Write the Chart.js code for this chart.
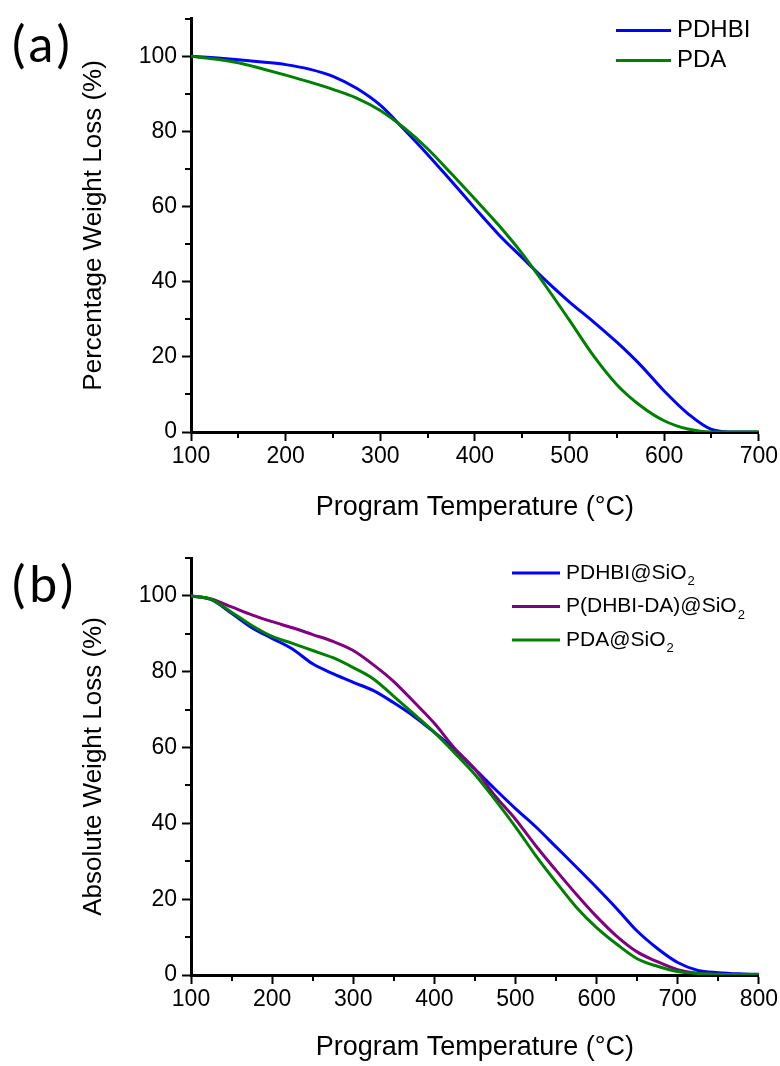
<!DOCTYPE html>
<html>
<head>
<meta charset="utf-8">
<script src="https://cdn.jsdelivr.net/npm/chart.js@4.4.1/dist/chart.umd.min.js"></script>
<style>
  html, body { margin: 0; padding: 0; background: #fff; }
  #wrap { position: relative; width: 780px; height: 1066px; }
  canvas { position: absolute; left: 0; }
</style>
</head>
<body>
<div id="wrap">
  <canvas id="chartA" width="780" height="533" style="top:0"></canvas>
  <canvas id="chartB" width="780" height="533" style="top:533px"></canvas>
</div>
<script>
// ---- panel (a) ----
var tempA = [100, 125, 150, 175, 200, 225, 250, 275, 300, 325, 350, 375, 400,
             425, 450, 475, 500, 525, 550, 575, 600, 625, 650, 675, 700];
var pdhbi = [100, 99.6, 99.1, 98.5, 97.8, 96.6, 94.7, 91.5, 87.0, 80.6, 73.9, 66.8, 59.6,
             52.6, 46.4, 40.3, 34.6, 29.4, 23.9, 17.8, 10.9, 4.9, 0.7, 0, 0];
var pda = [100, 99.3, 98.3, 96.7, 95.0, 93.2, 91.2, 88.9, 85.6, 81.0, 75.4, 68.8, 62.0,
           55.1, 47.5, 38.8, 29.7, 20.4, 12.6, 7.0, 3.0, 0.8, 0, 0, 0];
var namesA = ['PDHBI', 'PDA'];

// ---- panel (b) ----
var tempB = [100, 125, 150, 175, 200, 225, 250, 275, 300, 325, 350, 375, 400, 425, 450,
             475, 500, 525, 550, 575, 600, 625, 650, 675, 700, 725, 750, 775, 800];
var pdhbiSi = [100, 99.0, 95.4, 91.6, 88.8, 86.0, 82.1, 79.5, 77.2, 75.0, 71.8, 68.2, 64.0, 59.5, 54.3,
               49.0, 43.9, 39.1, 33.8, 28.5, 23.1, 17.5, 11.6, 7.0, 3.3, 1.2, 0.6, 0.3, 0.2];
var pDhbiDaSi = [100, 99.2, 97.1, 95.0, 93.2, 91.6, 89.8, 88.0, 85.6, 81.8, 77.4, 72.0, 66.4, 59.8, 54.3,
                 47.2, 41.1, 34.1, 27.6, 21.3, 15.4, 10.2, 6.1, 3.5, 1.4, 0.4, 0.2, 0.1, 0.1];
var pdaSi = [100, 99.1, 95.7, 92.2, 89.3, 87.5, 85.6, 83.7, 81.1, 78.1, 73.5, 68.8, 64.0, 58.6, 52.9,
             46.2, 39.1, 31.5, 24.5, 17.9, 12.5, 8.1, 4.3, 2.3, 0.9, 0.4, 0.2, 0.1, 0.1];
var namesB = ['PDHBI@SiO\u2082', 'P(DHBI-DA)@SiO\u2082', 'PDA@SiO\u2082'];

// ---- axes ----
var yTicks = [0, 20, 40, 60, 80, 100];
var yMinor = [10, 30, 50, 70, 90, 110];
var xTicksA = [100, 200, 300, 400, 500, 600, 700];
var xMinorA = [150, 250, 350, 450, 550, 650];
var xTicksB = [100, 200, 300, 400, 500, 600, 700, 800];
var xMinorB = [150, 250, 350, 450, 550, 650, 750];

var FAMILY = "'Liberation Sans', Arial, sans-serif";
var BLUE = '#0000ff', GREEN = '#008000', PURPLE = '#800080';

function minorTicks(xMinor) {
  return {
    id: 'minorTicks',
    afterDraw: function (chart) {
      var ctx = chart.ctx, xs = chart.scales.x, ys = chart.scales.y;
      ctx.save();
      ctx.strokeStyle = '#000';
      ctx.lineWidth = 2;
      ctx.beginPath();
      xMinor.forEach(function (v) {
        var px = Math.round(xs.getPixelForValue(v));
        ctx.moveTo(px, xs.top + 1); ctx.lineTo(px, xs.top + 6);
      });
      yMinor.forEach(function (v) {
        var py = Math.round(ys.getPixelForValue(v));
        ctx.moveTo(ys.right - 1, py); ctx.lineTo(ys.right - 6, py);
      });
      ctx.stroke();
      ctx.restore();
    }
  };
}

// legend with subscript digits, plus the panel letter
var SUBS = '\u2080\u2081\u2082\u2083\u2084\u2085\u2086\u2087\u2088\u2089';
function legendPlugin(cfg) {
  return {
    id: 'sketchLegend',
    afterDraw: function (chart) {
      var ctx = chart.ctx;
      ctx.save();
      chart.data.datasets.forEach(function (ds, i) {
        var y = cfg.top + i * cfg.gap;
        ctx.strokeStyle = ds.borderColor;
        ctx.lineWidth = 3;
        ctx.beginPath();
        ctx.moveTo(cfg.x0, y);
        ctx.lineTo(cfg.x1, y);
        ctx.stroke();
        ctx.fillStyle = '#000';
        ctx.textAlign = 'left';
        ctx.textBaseline = 'middle';
        var x = cfg.x1 + 6;
        for (var k = 0; k < ds.label.length; k++) {
          var ch = ds.label[k];
          var si = SUBS.indexOf(ch);
          if (si >= 0) {
            ctx.font = Math.round(cfg.size * 0.62) + 'px ' + FAMILY;
            ctx.fillText(String(si), x + 1, y + cfg.size * 0.42);
            x += ctx.measureText(String(si)).width + 1;
          } else {
            ctx.font = cfg.size + 'px ' + FAMILY;
            ctx.fillText(ch, x, y);
            x += ctx.measureText(ch).width;
          }
        }
      });
      ctx.font = '50px Lato, sans-serif';
      ctx.letterSpacing = '4px';
      ctx.textBaseline = 'alphabetic';
      ctx.fillText(cfg.panel, 12, cfg.panelY);
      ctx.restore();
    }
  };
}

function buildChart(id, temps, series, xMax, xTicks, xMinor, yTitle, box, legendCfg) {
  return new Chart(document.getElementById(id), {
    type: 'line',
    data: {
      datasets: series.map(function (s) {
        return {
          label: s.name,
          data: temps.map(function (t, k) { return { x: t, y: s.values[k] }; }),
          borderColor: s.color,
          backgroundColor: s.color,
          borderWidth: 3,
          pointRadius: 0,
          cubicInterpolationMode: 'monotone',
          fill: false,
          order: s.order
        };
      })
    },
    options: {
      responsive: false,
      animation: false,
      layout: { padding: { left: 0, right: 20, top: box.top, bottom: 0 } },
      plugins: { legend: { display: false }, tooltip: { enabled: false } },
      scales: {
        x: {
          type: 'linear',
          min: 100,
          max: xMax,
          afterBuildTicks: function (s) { s.ticks = xTicks.map(function (v) { return { value: v }; }); },
          afterFit: function (s) { s.height = box.xHeight; },
          grid: { drawOnChartArea: false, tickLength: 9, tickWidth: 2, tickColor: '#000' },
          border: { color: '#000', width: 3 },
          ticks: { color: '#000', font: { family: FAMILY, size: 23 }, padding: 2, maxRotation: 0 },
          title: {
            display: true, text: 'Program Temperature (\u00B0C)', color: '#000',
            font: { family: FAMILY, size: 27 }, padding: { top: 0, bottom: box.xTitlePad }
          }
        },
        y: {
          type: 'linear',
          min: 0,
          max: 110,
          afterBuildTicks: function (s) { s.ticks = yTicks.map(function (v) { return { value: v }; }); },
          afterFit: function (s) { s.width = 191; },
          grid: { drawOnChartArea: false, tickLength: 9, tickWidth: 2, tickColor: '#000' },
          border: { color: '#000', width: 3 },
          ticks: { color: '#000', font: { family: FAMILY, size: 23 }, padding: 5 },
          title: {
            display: true, text: yTitle, color: '#000',
            font: { family: FAMILY, size: 26 }, padding: { top: 78, bottom: 0 }
          }
        }
      }
    },
    plugins: [minorTicks(xMinor), legendPlugin(legendCfg)]
  });
}

buildChart('chartA', tempA, [
  { name: namesA[0], values: pdhbi, color: BLUE, order: 1 },
  { name: namesA[1], values: pda, color: GREEN, order: 0 }
], 700, xTicksA, xMinorA, 'Percentage Weight Loss (%)',
  { top: 14, xHeight: 101, xTitlePad: 9 },
  { x0: 616, x1: 671, top: 30.5, gap: 30, size: 24, panel: '(a)', panelY: 62 });

buildChart('chartB', tempB, [
  { name: namesB[0], values: pdhbiSi, color: BLUE, order: 2 },
  { name: namesB[1], values: pDhbiDaSi, color: PURPLE, order: 1 },
  { name: namesB[2], values: pdaSi, color: GREEN, order: 0 }
], 800, xTicksB, xMinorB, 'Absolute Weight Loss (%)',
  { top: 25, xHeight: 91, xTitlePad: 2 },
  { x0: 512, x1: 560, top: 40, gap: 33.5, size: 21, panel: '(b)', panelY: 69 });
</script>
</body>
</html>
